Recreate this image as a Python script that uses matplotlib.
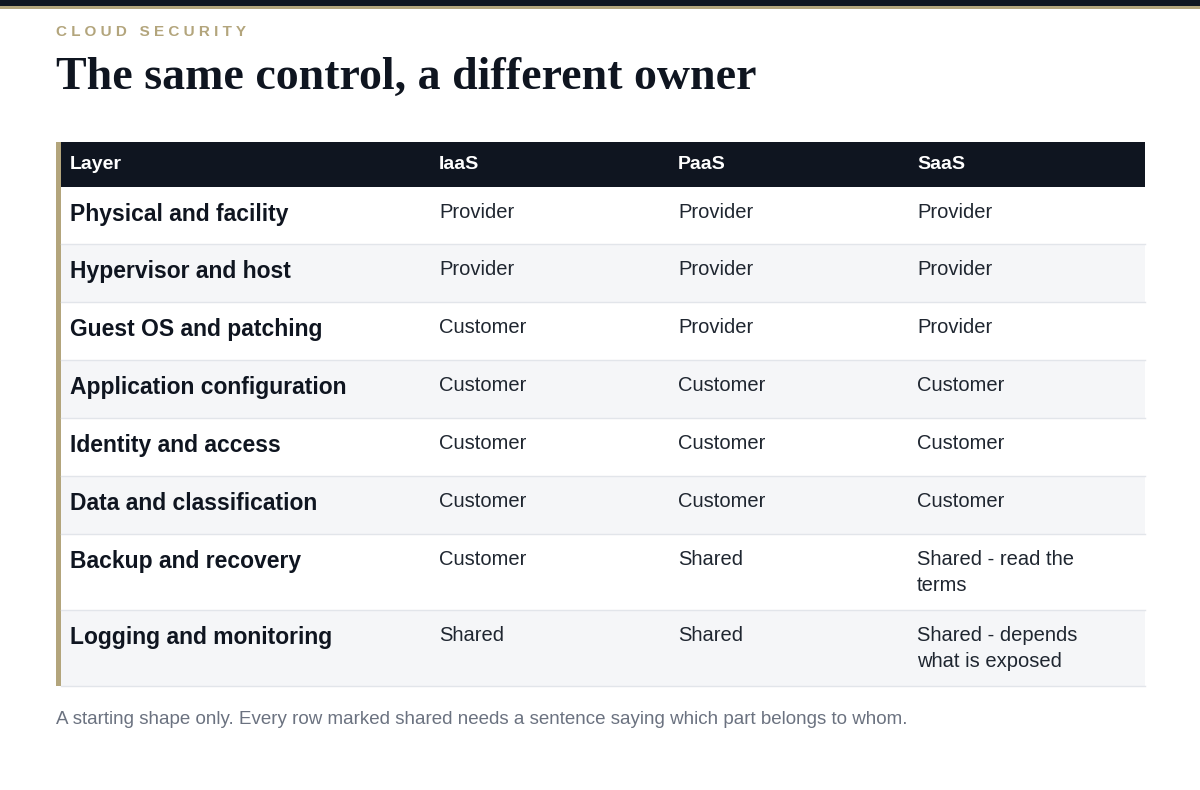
"""Cloud shared-responsibility table."""

import matplotlib
matplotlib.use('Agg')
import matplotlib.pyplot as plt
from matplotlib.patches import Rectangle

KICKER = 'CLOUD SECURITY'
TITLE = 'The same control, a different owner'
NOTE = 'A starting shape only. Every row marked shared needs a sentence saying which part belongs to whom.'

columns = ['Layer', 'IaaS', 'PaaS', 'SaaS']
layers = ['Physical and facility', 'Hypervisor and host', 'Guest OS and patching',
          'Application configuration', 'Identity and access', 'Data and classification',
          'Backup and recovery', 'Logging and monitoring']
iaas = ['Provider', 'Provider', 'Customer', 'Customer', 'Customer', 'Customer', 'Customer', 'Shared']
paas = ['Provider', 'Provider', 'Provider', 'Customer', 'Customer', 'Customer', 'Shared', 'Shared']
saas = ['Provider', 'Provider', 'Provider', 'Customer', 'Customer', 'Customer',
        'Shared - read the\nterms', 'Shared - depends\nwhat is exposed']

DARK = '#0f1520'
TAN = '#b3a57c'
ALT = '#f5f6f8'
LINE = '#e2e5ea'
TEXT = '#1f2630'

fig = plt.figure(figsize=(12, 7.9), dpi=100)
ax = fig.add_axes([0, 0, 1, 1])
ax.set_xlim(0, 1200)
ax.set_ylim(790, 0)
ax.axis('off')

# top rule
ax.add_patch(Rectangle((0, 0), 1200, 6, color=DARK, lw=0))
ax.add_patch(Rectangle((0, 6), 1200, 3, color=TAN, lw=0))

ax.text(56, 32, '  '.join([' '.join(w) for w in KICKER.split()]).replace('  ', '   '),
        fontsize=11, weight='bold', color=TAN, va='center', family='Liberation Sans')
ax.text(56, 78, TITLE, fontsize=33, weight='bold', color=DARK, va='center',
        family='Liberation Serif')

left, right = 61, 1145
col_x = [70, 439, 678, 917]
header_top, header_bot = 142, 187
row_h = [57, 58, 58, 58, 58, 58, 76, 76]

ax.add_patch(Rectangle((left, header_top), right - left, header_bot - header_top, color=DARK, lw=0))
for x, c in zip(col_x, columns):
    ax.text(x, (header_top + header_bot) / 2, c, fontsize=14, weight='bold', color='white',
            va='center', family='Liberation Sans')

y = header_bot
for i, h in enumerate(row_h):
    if i % 2 == 1:
        ax.add_patch(Rectangle((left, y), right - left, h, color=ALT, lw=0))
    ax.plot([left, right], [y + h, y + h], color=LINE, lw=1)
    cells = [layers[i], iaas[i], paas[i], saas[i]]
    for j, (x, val) in enumerate(zip(col_x, cells)):
        ax.text(x, y + 16, val, fontsize=16.5 if j == 0 else 14.5,
                weight='bold' if j == 0 else 'normal', color=DARK if j == 0 else TEXT,
                va='top', linespacing=1.45, family='Liberation Sans')
    y += h

ax.add_patch(Rectangle((56, header_top), 5, y - header_top, color=TAN, lw=0))

ax.text(56, 719, NOTE, fontsize=13.5, color='#6b7280', va='center', family='Liberation Sans')

fig.savefig('out.png', dpi=100)
